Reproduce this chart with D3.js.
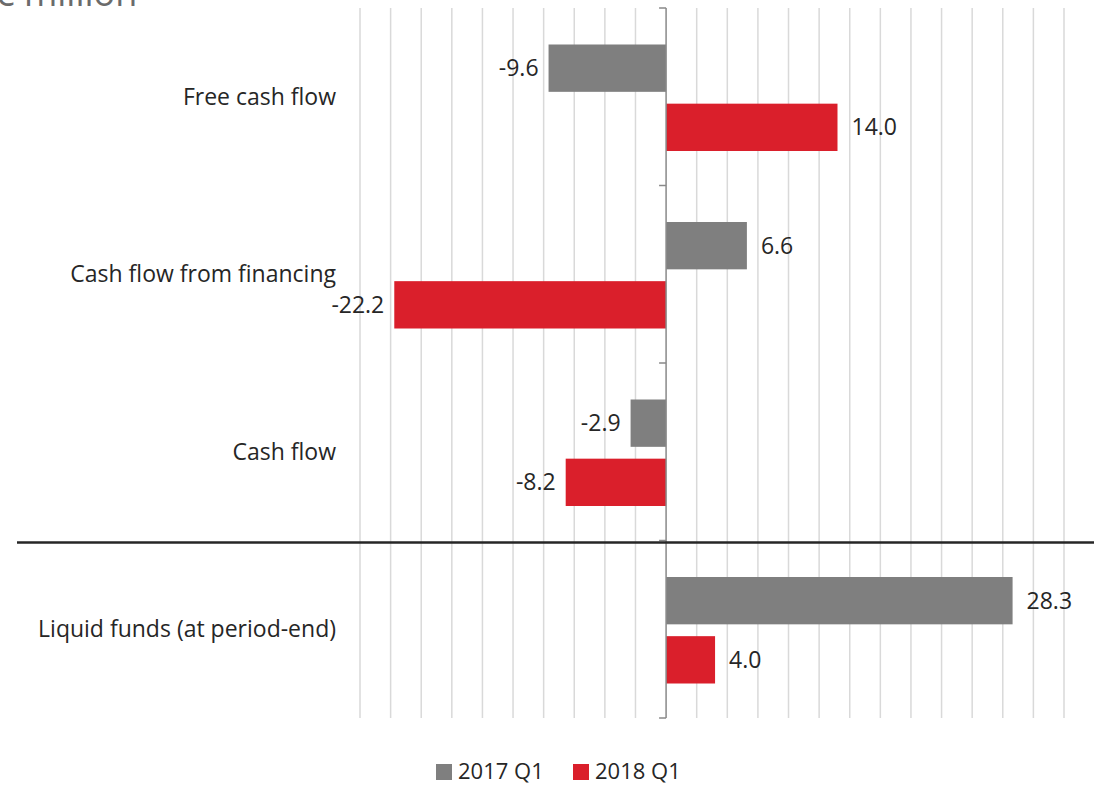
<!DOCTYPE html>
<html><head><meta charset="utf-8">
<script src="https://cdn.jsdelivr.net/npm/d3@7/dist/d3.min.js"></script>
<style>body{margin:0;background:#fff}svg{display:block}</style>
</head><body>
<svg id="c" width="1103" height="786"></svg>
<script>
const categories = ["Free cash flow","Cash flow from financing","Cash flow","Liquid funds (at period-end)"];
const seriesNames = ["2017 Q1","2018 Q1"];
const values2017 = [-9.6, 6.6, -2.9, 28.3];
const values2018 = [14.0, -22.2, -8.2, 4.0];
const colors = ["#7f7f7f","#da1f2b"];
const titleText = "€ million";

const svg = d3.select("#c");
const font = "'Open Sans', sans-serif";
const fs = 23;
const fmt = v => d3.format(".1f")(v).replace("\u2212", "-");
const x = d3.scaleLinear().domain([-25, 32.5]).range([360, 1064]);
const y = d3.scaleBand().domain(categories).range([8, 718]);
const y1 = d3.scaleBand().domain(seriesNames).range([0, y.bandwidth()]).paddingInner(0.2).paddingOuter(0.6);

// title (cut off at top, as in the original)
svg.append("text").attr("x", -6).attr("y", 6).attr("font-family", font).attr("font-size", 36)
  .attr("fill", "#6b6b6b").text(titleText);

// gridlines
const grid = d3.range(-25, 32.5 + 0.01, 2.5).filter(v => Math.abs(v) > 1e-9);
svg.append("g").selectAll("line").data(grid).join("line")
  .attr("x1", d => x(d)).attr("x2", d => x(d)).attr("y1", 8).attr("y2", 718)
  .attr("stroke", "#d9d9d9").attr("stroke-width", 1.5);

// bars
const data = categories.map((c, i) => ({cat: c, vals: [values2017[i], values2018[i]]}));
const g = svg.append("g");
data.forEach(d => {
  d.vals.forEach((v, j) => {
    const s = seriesNames[j];
    const yy = y(d.cat) + y1(s);
    g.append("rect").attr("x", Math.min(x(0), x(v))).attr("width", Math.abs(x(v) - x(0)))
      .attr("y", yy + 1).attr("height", y1.bandwidth()).attr("fill", colors[j]);
    g.append("text")
      .attr("x", v < 0 ? x(v) - 10 : x(v) + 14)
      .attr("y", yy + 1 + y1.bandwidth() / 2)
      .attr("dy", "0.35em")
      .attr("text-anchor", v < 0 ? "end" : "start")
      .attr("font-family", font).attr("font-size", fs).attr("fill", "#262626")
      .text(fmt(v));
  });
});

// axis at zero
const ax = svg.append("g");
ax.append("line").attr("x1", x(0)).attr("x2", x(0)).attr("y1", 8).attr("y2", 718)
  .attr("stroke", "#898989").attr("stroke-width", 1.5);
const bounds = categories.map(c => y(c)).concat([y.range()[1]]);
ax.selectAll("line.t").data(bounds).join("line").attr("class", "t")
  .attr("x1", x(0) - 7).attr("x2", x(0)).attr("y1", d => d).attr("y2", d => d)
  .attr("stroke", "#898989").attr("stroke-width", 1.5);

// category labels
svg.append("g").selectAll("text").data(categories).join("text")
  .attr("x", 336).attr("y", d => y(d) + y.bandwidth() / 2).attr("dy", "0.35em")
  .attr("text-anchor", "end").attr("font-family", font).attr("font-size", fs).attr("fill", "#262626")
  .text(d => d);

// separator line
svg.append("line").attr("x1", 17).attr("x2", 1094)
  .attr("y1", y(categories[3]) + 2).attr("y2", y(categories[3]) + 2)
  .attr("stroke", "#262626").attr("stroke-width", 2.5);

// legend
const leg = svg.append("g");
const legX = [436, 573];
seriesNames.forEach((s, i) => {
  leg.append("rect").attr("x", legX[i]).attr("y", 764).attr("width", 16).attr("height", 16).attr("fill", colors[i]);
  leg.append("text").attr("x", legX[i] + 22).attr("y", 779)
    .attr("font-family", font).attr("font-size", 22).attr("fill", "#262626").text(s);
});
</script>
</body></html>
